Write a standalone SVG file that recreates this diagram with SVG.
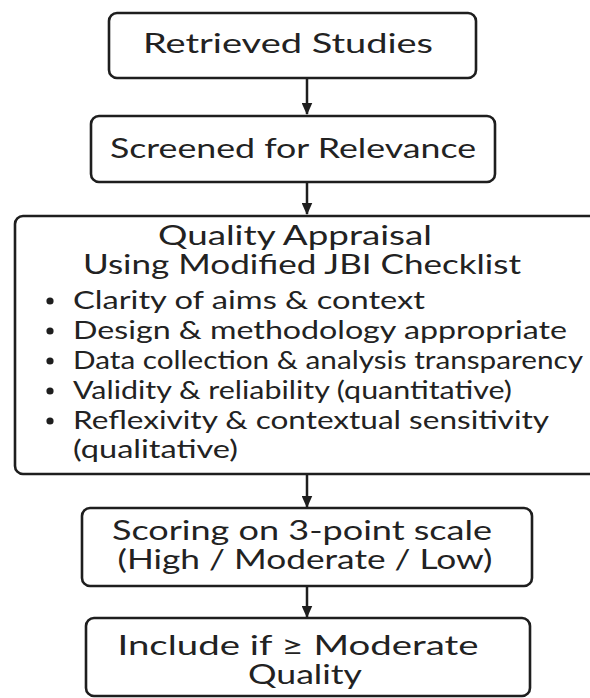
<svg xmlns="http://www.w3.org/2000/svg" width="590" height="698" viewBox="0 0 590 698">
<style>
.box{fill:#fff;stroke:#1e1e1e;stroke-width:2.6}
.t{font-family:Lato,"Noto Sans",sans-serif;font-size:26px;fill:#222;text-anchor:middle}
.b{font-family:Lato,"Noto Sans",sans-serif;font-size:25px;fill:#222}
.c{stroke:#1e1e1e;stroke-width:2.5;fill:none}
.dot{fill:#1e1e1e}
</style>
<defs>
<marker id="ah" markerWidth="5" markerHeight="4.4" refX="4.6" refY="2.2" orient="auto" markerUnits="strokeWidth"><path d="M0,0 L5,2.2 L0,4.4 z" fill="#1e1e1e"/></marker>
</defs>
<rect width="590" height="698" fill="#fff"/>
<g id="connectors">
<line class="c" x1="307" y1="78" x2="307" y2="114" marker-end="url(#ah)"/>
<line class="c" x1="307" y1="182" x2="307" y2="214" marker-end="url(#ah)"/>
<line class="c" x1="307" y1="475" x2="307" y2="507" marker-end="url(#ah)"/>
<line class="c" x1="307" y1="586" x2="307" y2="617" marker-end="url(#ah)"/>
</g>
<g id="n1">
<rect class="box" x="109" y="13" width="367" height="65" rx="8"/>
<text class="t" x="288" y="53" textLength="290" lengthAdjust="spacingAndGlyphs">Retrieved Studies</text>
</g>
<g id="n2">
<rect class="box" x="91" y="116" width="404" height="66" rx="8"/>
<text class="t" x="293" y="158" textLength="366" lengthAdjust="spacingAndGlyphs">Screened for Relevance</text>
</g>
<g id="n3">
<rect class="box" x="15" y="216" width="590" height="258" rx="8"/>
<text class="t" x="295" y="245" textLength="274" lengthAdjust="spacingAndGlyphs">Quality Appraisal</text>
<text class="t" x="302" y="274" textLength="438" lengthAdjust="spacingAndGlyphs">Using Modified JBI Checklist</text>
<circle class="dot" cx="50" cy="301" r="3.6"/>
<text class="b" x="73" y="309" textLength="352" lengthAdjust="spacingAndGlyphs">Clarity of aims &amp; context</text>
<circle class="dot" cx="50" cy="331" r="3.6"/>
<text class="b" x="73" y="339" textLength="494" lengthAdjust="spacingAndGlyphs">Design &amp; methodology appropriate</text>
<circle class="dot" cx="50" cy="361" r="3.6"/>
<text class="b" x="73" y="369" textLength="510" lengthAdjust="spacingAndGlyphs">Data collection &amp; analysis transparency</text>
<circle class="dot" cx="50" cy="391" r="3.6"/>
<text class="b" x="73" y="399" textLength="439" lengthAdjust="spacingAndGlyphs">Validity &amp; reliability (quantitative)</text>
<circle class="dot" cx="50" cy="421" r="3.6"/>
<text class="b" x="73" y="429" textLength="476" lengthAdjust="spacingAndGlyphs">Reflexivity &amp; contextual sensitivity</text>
<text class="b" x="73" y="458" textLength="165" lengthAdjust="spacingAndGlyphs">(qualitative)</text>
</g>
<g id="n4">
<rect class="box" x="82" y="508" width="450" height="78" rx="8"/>
<text class="t" x="302" y="540" textLength="380" lengthAdjust="spacingAndGlyphs">Scoring on 3-point scale</text>
<text class="t" x="305" y="569" textLength="375" lengthAdjust="spacingAndGlyphs">(High / Moderate / Low)</text>
</g>
<g id="n5">
<rect class="box" x="86" y="618" width="444" height="78" rx="8"/>
<text class="t" x="298" y="655" textLength="361" lengthAdjust="spacingAndGlyphs">Include if ≥ Moderate</text>
<text class="t" x="305" y="684" textLength="114" lengthAdjust="spacingAndGlyphs">Quality</text>
</g>
</svg>
